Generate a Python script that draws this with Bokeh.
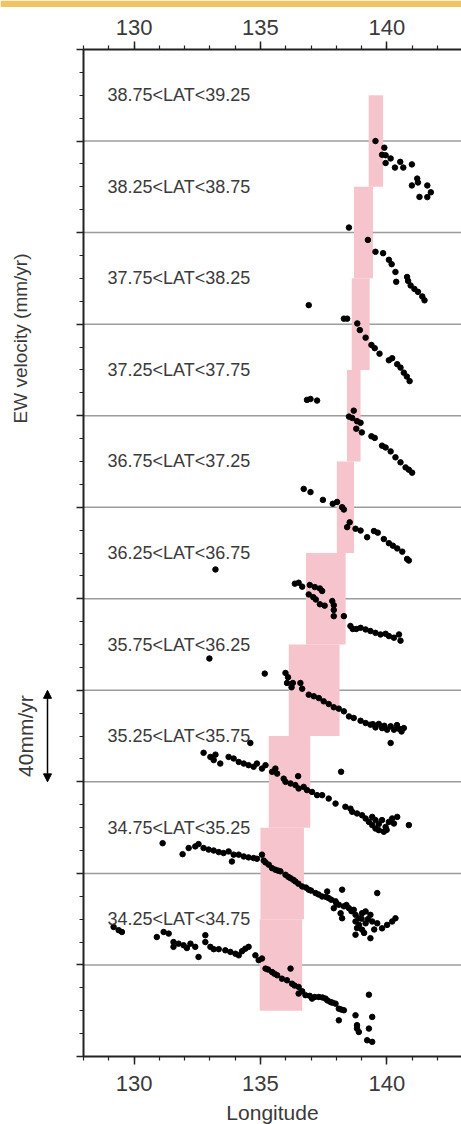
import numpy as np
from bokeh.plotting import figure
from bokeh.models import (ColumnDataSource, Range1d, LinearAxis, SingleIntervalTicker,
                          Arrow, NormalHead)
from bokeh.core.properties import value
from bokeh.embed import file_html
from bokeh.resources import INLINE

# ---------------- data ----------------
bands = ["38.75<LAT<39.25", "38.25<LAT<38.75", "37.75<LAT<38.25", "37.25<LAT<37.75",
         "36.75<LAT<37.25", "36.25<LAT<36.75", "35.75<LAT<36.25", "35.25<LAT<35.75",
         "34.75<LAT<35.25", "34.25<LAT<34.75"]
base = [400, 360, 320, 280, 240, 200, 160, 120, 80, 40]   # reference offset of each band
box_lon_min = [139.28, 138.70, 138.61, 138.42, 138.02, 136.80, 136.12, 135.33, 135.00, 134.97]
box_lon_max = [139.85, 139.45, 139.32, 138.96, 138.70, 138.37, 138.13, 136.97, 136.72, 136.65]
box_half = 20
scale_bar = 40  # mm/yr

lon0 = [139.55, 139.90, 139.81, 139.95, 140.15, 139.95, 140.32, 140.53, 140.65, 140.99,
        141.20, 141.23, 140.99, 141.60, 141.74, 141.29, 141.60]
vel0 = [0.0, -2.9, -6.0, -6.2, -7.6, -9.6, -11.6, -9.1, -11.6, -10.2,
        -16.4, -18.1, -19.4, -19.4, -22.4, -24.4, -24.5]

lon1 = [138.50, 139.25, 139.55, 139.85, 140.08, 140.19, 140.34, 140.37, 140.80, 140.84,
        140.94, 141.09, 141.23, 141.40, 141.49]
vel1 = [2.2, -3.2, -8.4, -9.0, -11.9, -13.8, -17.2, -21.5, -19.4, -21.1,
        -23.1, -24.6, -25.9, -27.9, -29.6]

lon2 = [136.91, 138.30, 138.43, 138.83, 138.93, 139.16, 139.39, 139.52, 139.71, 140.08,
        140.21, 140.41, 140.54, 140.67, 140.79, 140.90]
vel2 = [8.3, 2.4, 2.4, 0.3, -2.6, -5.9, -9.1, -10.5, -12.9, -15.8,
        -14.9, -17.5, -19.0, -21.2, -22.9, -24.9]

lon3 = [136.84, 136.98, 137.24, 138.69, 138.50, 138.63, 138.82, 138.96, 138.79, 139.01,
        139.39, 139.52, 139.81, 139.95, 140.15, 140.34, 140.54, 140.74, 140.87, 141.00]
vel3 = [6.9, 7.3, 6.6, 2.2, -0.4, -1.0, -2.4, -3.1, -5.7, -7.3,
        -9.0, -9.7, -13.1, -13.9, -15.6, -18.2, -20.4, -22.6, -23.6, -24.9]

lon4 = [136.71, 136.98, 137.47, 137.86, 138.03, 138.23, 138.30, 138.53, 138.43, 138.76,
        138.96, 139.22, 139.49, 139.64, 139.88, 140.08, 140.24, 140.41, 140.61, 140.80, 140.87]
vel4 = [8.0, 6.6, 3.2, 1.5, 2.3, 0.0, -1.0, -6.6, -8.7, -9.4,
        -10.2, -13.1, -10.4, -11.1, -13.9, -15.7, -16.8, -18.0, -19.4, -22.6, -23.3]

lon5 = [133.22, 136.36, 136.51, 136.65, 136.95, 137.15, 137.35, 137.44, 136.91, 137.09,
        137.19, 137.35, 137.54, 137.84, 137.90, 137.90, 137.90, 138.30, 138.56, 138.65,
        138.79, 138.96, 139.16, 139.35, 139.55, 139.75, 139.95, 140.08, 140.28, 140.48, 140.54]
vel5 = [12.8, 6.6, 7.0, 5.3, 6.0, 5.1, 4.5, 3.4, 1.9, 0.7,
        -0.3, -2.4, -3.0, -1.0, -2.8, -4.9, -7.6, -7.6, -11.9, -13.2,
        -13.2, -12.7, -13.4, -14.1, -14.9, -15.6, -15.3, -16.3, -17.0, -15.6, -18.3]

lon6 = [132.98, 135.17, 135.99, 136.09, 136.05, 136.28, 136.23, 136.58, 136.65, 136.91,
        137.11, 137.31, 137.50, 137.70, 137.90, 138.10, 138.30, 138.50, 138.69, 138.96,
        139.16, 139.35, 139.55, 139.68, 139.81, 140.01, 140.15, 140.28, 140.48, 140.67,
        140.15, 139.45, 139.90, 140.40, 140.58]
vel6 = [13.9, 7.3, 7.6, 5.7, 3.2, 3.2, 1.3, 3.2, 0.7, -1.9,
        -2.6, -3.4, -4.8, -6.0, -7.4, -8.0, -9.2, -11.4, -12.1, -13.3,
        -14.3, -15.0, -16.2, -14.7, -16.5, -17.2, -15.7, -17.2, -16.8, -16.5,
        -23.0, -14.8, -15.5, -15.2, -18.0]

lon7 = [134.60, 132.75, 133.02, 133.22, 133.15, 133.41, 133.74, 133.94, 134.14, 134.34,
        134.53, 134.73, 134.86, 135.06, 135.20, 135.46, 135.59, 135.66, 135.92, 135.99,
        136.49, 136.19, 136.38, 136.51, 136.71, 136.84, 137.04, 137.24, 137.44, 137.70,
        137.97, 138.19, 138.36, 138.56, 138.63, 138.82, 139.02, 139.16, 139.29, 139.42,
        139.55, 139.68, 139.88, 139.95, 140.08, 140.21, 140.41, 140.28, 139.81, 139.55,
        139.42, 140.87, 139.68, 139.99]
vel7 = [17.0, 12.7, 10.9, 11.9, 9.5, 8.0, 10.9, 10.2, 8.7, 8.0,
        7.3, 6.6, 8.0, 5.8, 7.3, 4.4, 5.8, 3.6, 1.4, 0.0,
        2.5, -0.7, -1.4, -2.9, -2.2, -3.6, -4.4, -5.8, -5.8, -7.3,
        -9.5, 4.4, -10.9, -11.7, -13.1, -13.8, -14.6, -16.0, -17.5, -18.9,
        -20.4, -21.1, -21.8, -19.7, -17.5, -16.0, -15.3, -18.2, -16.7, -16.7,
        -15.3, -18.9, -18.4, -21.0]

lon8 = [131.13, 131.92, 132.16, 132.42, 132.55, 132.75, 132.95, 133.15, 133.35, 133.54,
        133.74, 133.94, 133.87, 134.14, 134.34, 134.53, 134.73, 134.86, 135.06, 135.13,
        135.33, 135.46, 135.59, 135.79, 135.99, 136.19, 136.38, 136.65, 136.91, 137.18,
        137.44, 137.64, 137.70, 137.97, 138.23, 138.10, 138.30, 138.50, 138.69, 138.76,
        138.89, 139.02, 139.16, 139.35, 139.42, 139.16, 138.76, 138.82, 138.76, 139.02,
        139.35, 139.62, 139.62, 139.81, 140.01, 140.21, 140.34, 138.23, 137.90, 138.17,
        136.10, 136.30, 136.50, 136.80, 137.00, 137.30, 137.60, 137.80, 138.00, 138.40,
        138.60, 139.00, 139.25, 139.50, 138.90, 135.20, 135.70, 139.10]
vel8 = [13.2, 8.4, 11.1, 11.8, 12.8, 11.1, 10.4, 10.0, 9.3, 8.9,
        9.6, 8.2, 5.2, 8.2, 7.4, 7.0, 6.7, 6.4, 8.2, 5.6,
        3.8, 2.3, 1.6, 0.9, -0.6, -2.1, -3.5, -5.7, -7.1, -8.6,
        -10.1, -7.9, -10.8, -12.2, -7.1, -13.7, -14.4, -15.2, -15.9, -18.1,
        -19.6, -17.4, -16.6, -18.1, -21.0, -21.8, -21.0, -23.9, -26.8, -24.6,
        -28.3, -8.6, -21.8, -24.0, -22.5, -21.0, -19.6, -19.6, -15.2, -17.4,
        -1.5, -2.8, -4.5, -6.2, -7.5, -9.2, -10.3, -11.5, -13.0, -13.8,
        -16.5, -19.8, -20.0, -24.5, -22.5, 4.8, 1.2, -26.0]

lon9 = [129.19, 129.39, 129.52, 130.90, 131.17, 131.37, 131.56, 131.76, 131.56, 131.96,
        132.09, 132.23, 132.42, 132.55, 132.82, 132.82, 133.02, 133.15, 133.35, 133.61,
        133.81, 134.01, 134.14, 134.27, 134.40, 134.53, 134.80, 134.93, 135.06, 135.20,
        135.46, 135.66, 135.85, 136.19, 136.05, 136.25, 136.51, 136.51, 136.78, 137.04,
        137.31, 137.57, 137.77, 137.97, 138.10, 138.30, 138.10, 138.76, 138.82, 138.89,
        138.82, 139.29, 139.42, 139.29, 139.22, 139.42,
        135.30, 135.55, 136.35, 136.65, 136.95, 137.15, 137.45, 137.65, 137.85, 138.20]
vel9 = [16.6, 15.2, 14.4, 12.2, 14.4, 13.7, 10.0, 9.3, 7.9, 8.6,
        7.4, 9.3, 7.9, 3.5, 13.0, 10.0, 7.9, 6.9, 6.9, 6.4,
        5.7, 4.9, 4.2, 6.0, 7.1, 7.9, 4.2, 2.1, 2.8, -1.6,
        -3.1, -4.5, -6.0, -1.6, -6.7, -8.2, -9.6, -12.5, -13.2, -14.7,
        -14.0, -14.7, -16.2, -16.9, -19.1, -19.8, -24.2, -22.0, -26.3, -29.3,
        -27.8, -13.0, -22.7, -27.8, -32.9, -33.6,
        -2.0, -3.8, -9.0, -11.5, -13.5, -14.0, -14.2, -15.5, -16.5, -19.5]

band_lons = [lon0, lon1, lon2, lon3, lon4, lon5, lon6, lon7, lon8, lon9]
band_vels = [vel0, vel1, vel2, vel3, vel4, vel5, vel6, vel7, vel8, vel9]

# ---------------- geometry ----------------
W, H = 461, 1124
LON_MIN, Y_MIN, Y_MAX = 128.0, 0.0, 440.0
AXIS_LEFT_PX, AXIS_TOP_PX, AXIS_BOTTOM_PX = 83, 49, 1056
KX = 25.28                                       # px per degree
KY = (AXIS_BOTTOM_PX - AXIS_TOP_PX) / (Y_MAX - Y_MIN)  # px per mm/yr
# the frame covers the whole canvas, the axes sit at fixed locations inside it
X0 = LON_MIN - AXIS_LEFT_PX / KX
X1 = LON_MIN + (W - AXIS_LEFT_PX) / KX
Y0 = Y_MIN - (H - AXIS_BOTTOM_PX) / KY
Y1 = Y_MAX + AXIS_TOP_PX / KY


def px2x(px):
    return X0 + px / KX


def py2y(py):
    return (AXIS_BOTTOM_PX - py) / KY


# ---------------- sources ----------------
xs, ys = [], []
for b, lo, ve in zip(base, band_lons, band_vels):
    assert len(lo) == len(ve)
    xs.extend(lo)
    ys.extend([b + v for v in ve])
pts = ColumnDataSource(dict(x=xs, y=ys))

boxes = ColumnDataSource(dict(left=box_lon_min, right=box_lon_max,
                              bottom=[b - box_half for b in base],
                              top=[b + box_half for b in base]))
labels = ColumnDataSource(dict(x=[128.95] * len(bands),
                               y=[b + 20 for b in base], text=bands))
seps = ColumnDataSource(dict(x0=[LON_MIN] * len(base), x1=[X1] * len(base),
                             y=base))

FONT = "Liberation Sans"
AX = "#222222"
TXT = "#3a3a3a"

p = figure(width=W, height=H, output_backend="svg", toolbar_location=None, tools="",
           title=None, x_range=Range1d(X0, X1), y_range=Range1d(Y0, Y1),
           x_axis_location=None, y_axis_location=None,
           min_border_left=0, min_border_right=0, min_border_top=0, min_border_bottom=0)
p.outline_line_color = None
p.background_fill_color = "white"
p.border_fill_color = "white"
p.grid.visible = False

# decorative page strip at the very top
p.quad(left=[X0], right=[X1], bottom=[py2y(6.5)], top=[Y1], fill_color="#f1c462",
       line_color=None)

# band separator lines
p.segment(x0="x0", x1="x1", y0="y", y1="y", source=seps, line_color="#9c9c9c",
          line_width=1.5)

# axes
bottom_ax = LinearAxis(ticker=SingleIntervalTicker(interval=5, num_minor_ticks=5),
                       bounds=(LON_MIN, X1), fixed_location=Y_MIN)
top_ax = LinearAxis(ticker=SingleIntervalTicker(interval=5, num_minor_ticks=5),
                    bounds=(LON_MIN, X1), fixed_location=Y_MAX)
p.add_layout(bottom_ax, "below")
p.add_layout(top_ax, "above")
for ax in [bottom_ax, top_ax]:
    ax.axis_line_color = AX
    ax.axis_line_width = 2
    ax.major_tick_line_color = AX
    ax.minor_tick_line_color = AX
    ax.major_tick_line_width = 1.5
    ax.minor_tick_line_width = 1.2
    ax.major_tick_out = 8
    ax.major_tick_in = 0
    ax.minor_tick_out = 4
    ax.minor_tick_in = 0
    ax.major_label_text_font = FONT
    ax.major_label_text_font_size = "22px"
    ax.major_label_text_color = TXT
top_ax.major_label_standoff = 7
bottom_ax.major_label_standoff = 11

ya = LinearAxis(ticker=SingleIntervalTicker(interval=40, num_minor_ticks=4),
                bounds=(Y_MIN, Y_MAX), fixed_location=LON_MIN)
p.add_layout(ya, "left")
ya.axis_line_color = AX
ya.axis_line_width = 2
ya.major_tick_line_color = AX
ya.minor_tick_line_color = AX
ya.major_tick_line_width = 1.5
ya.minor_tick_line_width = 1.2
ya.major_tick_out = 7
ya.major_tick_in = 0
ya.minor_tick_out = 4
ya.minor_tick_in = 0
ya.major_label_overrides = {v: "" for v in range(0, 441, 40)}
ya.major_label_standoff = 0

# pink boxes, dots, band labels
p.quad(left="left", right="right", bottom="bottom", top="top", source=boxes,
       fill_color="#f6c4cc", line_color=None)
p.scatter("x", "y", source=pts, size=5.5, color="black")
p.text(x="x", y="y", text="text", source=labels, text_font=value(FONT),
       text_font_size="18px", text_color=TXT, text_baseline="middle", text_align="left")

# x axis title, centred under the drawn axis
p.text(x=[(LON_MIN + X1) / 2], y=[py2y(1112)], text=["Longitude"],
       text_align="center", text_baseline="middle", text_font=value(FONT),
       text_font_size="21px", text_color=TXT)

# y axis title and 40 mm/yr scale arrow in the left margin
p.text(x=[px2x(20)], y=[py2y(338)], text=["EW velocity (mm/yr)"], angle=np.pi / 2,
       text_align="center", text_baseline="middle", text_font=value(FONT),
       text_font_size="19px", text_color=TXT)
bar_mid = base[7] + 20
p.text(x=[px2x(25)], y=[bar_mid], text=[f"{scale_bar}mm/yr"], angle=np.pi / 2,
       text_align="center", text_baseline="middle", text_font=value(FONT),
       text_font_size="21px", text_color=TXT)
for sgn in (1, -1):
    p.add_layout(Arrow(x_start=px2x(47), y_start=bar_mid, x_end=px2x(47),
                       y_end=bar_mid + sgn * scale_bar / 2,
                       end=NormalHead(size=8, fill_color="black", line_color="black"),
                       line_color="black", line_width=1.5))

open("out.html", "w").write(file_html(p, INLINE))
